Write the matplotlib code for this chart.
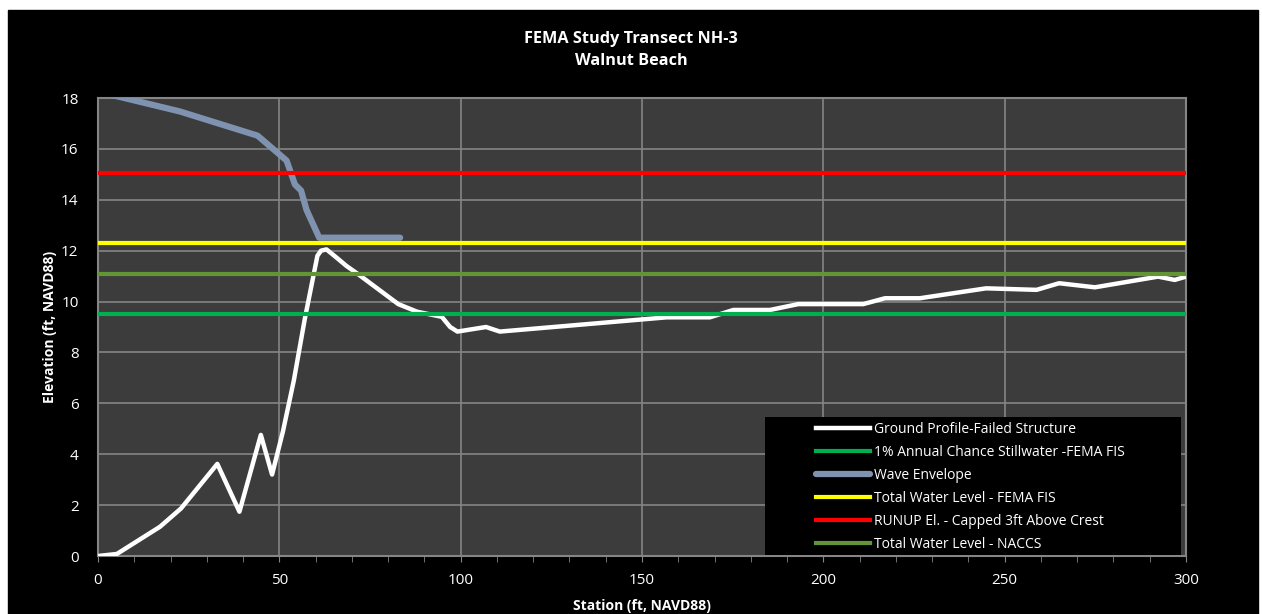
import numpy as np
import matplotlib.pyplot as plt
from matplotlib.patches import Rectangle
from matplotlib.ticker import MultipleLocator

plt.rcParams['font.family'] = ['Open Sans', 'DejaVu Sans']

# ground profile along the transect (station ft, elevation ft NAVD88)
ground_x = [0, 5.2, 17.1, 22.9, 32.9, 39.0, 44.9, 48.0, 51.0, 54.0, 57.0, 60.5, 61.5, 63.0, 66.0,
            68.5, 71.5, 82.8, 88.0, 94.8, 97.1, 99.1, 107.0, 110.8, 156.8, 168.7, 175.2, 185.3,
            193.1, 211.0, 217.0, 226.6, 244.9, 258.8, 265.0, 274.9, 292.3, 296.9, 300.0]
ground_y = [0.0, 0.08, 1.15, 1.87, 3.62, 1.74, 4.76, 3.2, 4.9, 6.9, 9.3, 11.8, 12.0, 12.05, 11.7,
            11.4, 11.1, 9.9, 9.6, 9.4, 9.0, 8.82, 9.0, 8.82, 9.38, 9.38, 9.67, 9.67,
            9.9, 9.9, 10.13, 10.13, 10.52, 10.46, 10.72, 10.56, 10.98, 10.85, 10.98]

wave_x = [0, 22.6, 44.0, 52.0, 54.3, 56.0, 57.5, 61.0, 83.3]
wave_y = [18.25, 17.47, 16.52, 15.54, 14.6, 14.36, 13.6, 12.51, 12.51]

span = [0, 300]
stillwater = 9.5
twl_fema = 12.3
runup = 15.05
twl_naccs = 11.1

fig = plt.figure(figsize=(12.62, 6.14), dpi=100, facecolor='white')
fig.patches.append(Rectangle((8 / 1262, 0), 1250 / 1262, 604 / 614,
                             transform=fig.transFigure, color='black', zorder=-1))

ax = fig.add_axes([98 / 1262, 1 - 556 / 614, 1088 / 1262, 458 / 614])
ax.set_facecolor('#3c3c3c')

ax.plot(ground_x, ground_y, color='white', lw=3.2, label='Ground Profile-Failed Structure',
        solid_joinstyle='round', zorder=3)
ax.plot(span, [stillwater] * 2, color='#00b050', lw=3,
        label='1% Annual Chance Stillwater -FEMA FIS', zorder=4)
ax.plot(wave_x, wave_y, color='#7f93b0', lw=4.5, label='Wave Envelope',
        solid_capstyle='round', solid_joinstyle='round', zorder=5)
ax.plot(span, [twl_fema] * 2, color='#ffff00', lw=3, label='Total Water Level - FEMA FIS', zorder=6)
ax.plot(span, [runup] * 2, color='#ff0000', lw=3, label='RUNUP El. - Capped 3ft Above Crest', zorder=7)
ax.plot(span, [twl_naccs] * 2, color='#629538', lw=3, label='Total Water Level - NACCS', zorder=8)

ax.set_xlim(0, 300)
ax.set_ylim(0, 18)
ax.xaxis.set_major_locator(MultipleLocator(50))
ax.xaxis.set_minor_locator(MultipleLocator(10))
ax.yaxis.set_major_locator(MultipleLocator(2))
ax.grid(True, which='major', color='#858585', lw=1.2)
ax.set_axisbelow(True)
for s in ax.spines.values():
    s.set_color('#858585')
    s.set_linewidth(1.5)
ax.tick_params(axis='x', which='both', colors='#858585', direction='out', length=4,
               labelcolor='white', labelsize=11, pad=8)
ax.tick_params(axis='y', length=0, labelcolor='white', labelsize=11, pad=14)

ax.set_xlabel('Station (ft, NAVD88)', color='white', fontsize=10, fontweight='bold', labelpad=8)
ax.set_ylabel('Elevation (ft, NAVD88)', color='white', fontsize=10, fontweight='bold', labelpad=3)
fig.text(631 / 1262, 1 - 50 / 614, 'FEMA Study Transect NH-3\nWalnut Beach', color='white',
         fontsize=11.7, fontweight='bold', ha='center', va='center', linespacing=1.5)

# legend sits on a black panel in the lower right of the plot area
ax.add_patch(Rectangle((0.613, 0.002), 0.3824, 0.3015, transform=ax.transAxes,
                       facecolor='black', edgecolor='none', zorder=9))
leg = ax.legend(loc='upper left', bbox_to_anchor=(0.6595, 0.2925), frameon=False, fontsize=10,
                labelcolor='white', handlelength=3.9, handletextpad=0.3,
                borderpad=0, labelspacing=0.57, borderaxespad=0)
leg.set_zorder(10)

fig.savefig('out.png', dpi=100, facecolor=fig.get_facecolor())
